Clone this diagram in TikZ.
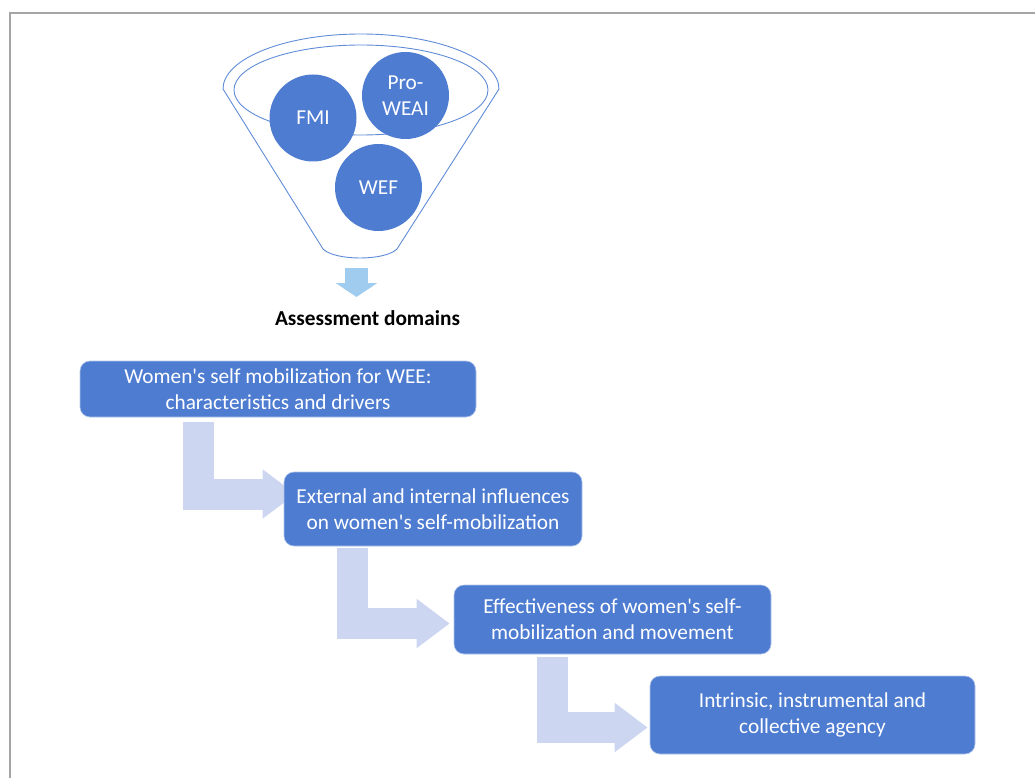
\documentclass[tikz,border=0pt]{standalone}
\usepackage{fontspec}
\setmainfont{Carlito}
\usetikzlibrary{arrows.meta, calc, backgrounds}

\definecolor{boxblue}{RGB}{78,124,209}
\definecolor{arrowlav}{RGB}{205,214,241}
\definecolor{downblue}{RGB}{160,204,240}
\definecolor{funnelline}{RGB}{95,140,215}
\definecolor{framegray}{RGB}{165,165,165}

\begin{document}
\begin{tikzpicture}[
  x=1pt, y=-1pt,
  font=\fontsize{21.3}{26}\selectfont,
  stage/.style = {draw=white!55!boxblue, line width=0.6pt, fill=boxblue, text=white, rounded corners=10pt, align=center, inner sep=0pt},
  tool/.style = {circle, fill=boxblue, text=white, minimum size=87pt, inner sep=0pt, align=center},
  funnel/.style = {draw=funnelline, line width=0.9pt},
  bentarrow/.style = {draw=arrowlav, line width=31pt, -{Triangle[width=47pt, length=33pt]}},
  downarrow/.style = {draw=downblue, line width=23pt, -{Triangle[width=41pt, length=14pt]}}
]
  \useasboundingbox (0,0) rectangle (1035,778);

  % Frame
  \draw[framegray, line width=2.5pt] (10,778) -- (10,13) -- (1035,13);

  % Funnel
  \draw[funnel] (223,89) arc[start angle=180, end angle=0, x radius=138pt, y radius=55pt]
    -- (397,249) .. controls (385,261) and (335,261) .. (323,249) -- cycle;
  \draw[funnel] (361,90) ellipse[x radius=127pt, y radius=45pt];
  \coordinate (fbottom) at (360,259);

  % Tools in the funnel
  \node[tool] (fmi) at (313,118) {FMI};
  \node[tool] (weai) at (405.5,95.5) {Pro-\\WEAI};
  \node[tool] (wef) at (378.5,187.5) {WEF};

  % Funnel output
  \node[font=\fontsize{21.3}{26}\selectfont\bfseries] (domains) at (367.5,318) {Assessment domains};
  \draw[downarrow] ($(fbottom)+(-3.5,9)$) -- ($(fbottom)+(-3.5,38)$);

  % Domains
  \node[stage, minimum width=396pt, minimum height=56pt] (mobil) at (278,389)
    {Women\textquotesingle s self mobilization for WEE:\\characteristics and drivers};
  \node[stage, minimum width=298pt, minimum height=74pt] (influ) at (433,509)
    {External and internal influences\\on women\textquotesingle s self-mobilization};
  \node[stage, minimum width=317pt, minimum height=69pt] (effect) at (612.5,619.5)
    {Effectiveness of women\textquotesingle s self-\\mobilization and movement};
  \node[stage, minimum width=325pt, minimum height=78pt] (agency) at (812.5,715)
    {Intrinsic, instrumental and\\collective agency};

  % Bent arrows between domains
  \begin{scope}[on background layer]
    \draw[bentarrow] ($(mobil.south)+(-80,5)$) |- ($(influ.west)+(12,-15)$);
    \draw[bentarrow] ($(influ.south)+(-80.5,2)$) |- ($(effect.west)+(-4,4)$);
    \draw[bentarrow] ($(effect.south)+(-60.5,3)$) |- ($(agency.west)+(-2,12.5)$);
  \end{scope}

\end{tikzpicture}
\end{document}
